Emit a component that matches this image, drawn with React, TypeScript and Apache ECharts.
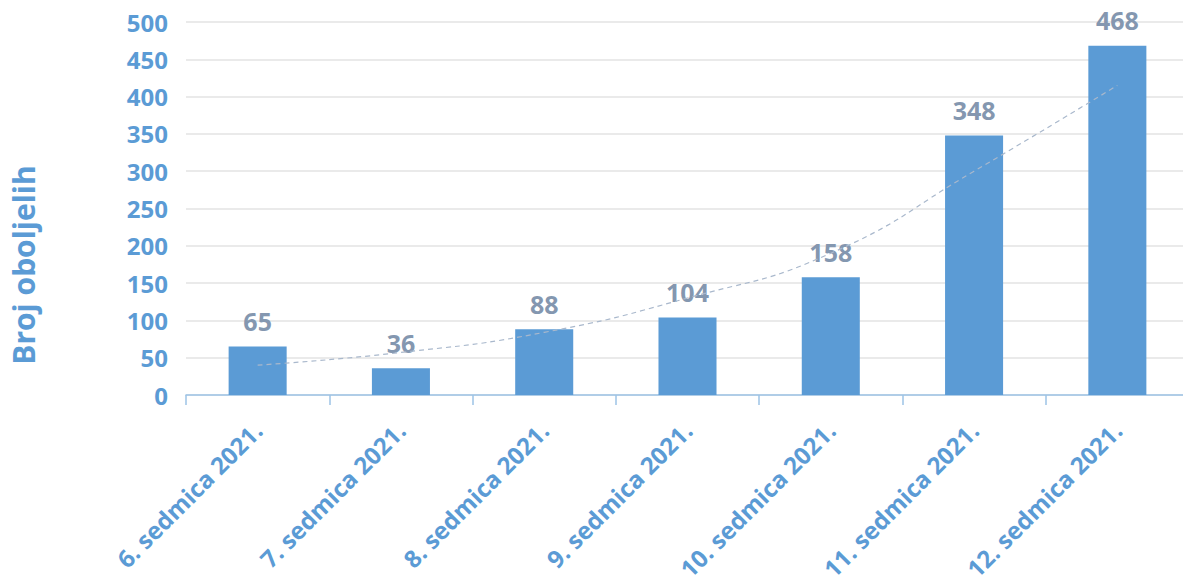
import React, { useEffect, useRef } from "react";
import * as echarts from "echarts";

const categories = [
  "6. sedmica 2021.",
  "7. sedmica 2021.",
  "8. sedmica 2021.",
  "9. sedmica 2021.",
  "10. sedmica 2021.",
  "11. sedmica 2021.",
  "12. sedmica 2021.",
];
const cases = [65, 36, 88, 104, 158, 348, 468];
const trend = [40, 57, 84, 130, 190, 300, 415];
const yAxisTitle = "Broj oboljelih";

const FONT = "'Open Sans', 'Noto Sans', sans-serif";
const BLUE = "#5B9BD5";

export default function App() {
  const ref = useRef<HTMLDivElement>(null);
  useEffect(() => {
    if (!ref.current) return;
    const chart = echarts.init(ref.current, undefined, { renderer: "svg" });
    chart.setOption({
      animation: false,
      grid: { left: 186, right: 1, top: 22, bottom: 189, containLabel: false, outerBoundsMode: "none" },
      graphic: [
        {
          type: "text",
          x: 23,
          y: 265,
          rotation: Math.PI / 2,
          style: {
            text: yAxisTitle,
            fill: BLUE,
            font: `bold 30px ${FONT}`,
            align: "center",
            verticalAlign: "middle",
          },
        },
      ],
      xAxis: {
        type: "category",
        data: categories,
        boundaryGap: true,
        axisLine: { show: true, lineStyle: { color: "#9DC3E6", width: 1.5 } },
        axisTick: { show: true, length: 10, alignWithLabel: false, lineStyle: { color: "#9DC3E6", width: 1.5 } },
        axisLabel: {
          rotate: 45,
          interval: 0,
          margin: 31,
          color: BLUE,
          fontFamily: FONT,
          fontWeight: "bold",
          fontSize: 24,
        },
      },
      yAxis: {
        type: "value",
        min: 0,
        max: 500,
        interval: 50,
        axisLine: { show: false },
        axisTick: { show: false },
        axisLabel: { color: BLUE, fontFamily: FONT, fontWeight: "bold", fontSize: 24, margin: 18 },
        splitLine: { lineStyle: { color: "#E3E3E3", width: 1.5 } },
      },
      series: [
        {
          type: "bar",
          data: cases,
          barWidth: "40.5%",
          itemStyle: { color: BLUE },
          label: {
            show: true,
            position: "top",
            distance: 13,
            color: "#8497B0",
            fontFamily: FONT,
            fontWeight: "bold",
            fontSize: 25,
          },
          z: 2,
        },
        {
          type: "line",
          data: trend,
          smooth: true,
          symbol: "none",
          lineStyle: { color: "#A9B8CC", width: 1.2, type: [5, 4] },
          z: 3,
        },
      ],
    });
    return () => chart.dispose();
  }, []);
  return (
    <div
      ref={ref}
      style={{ position: "fixed", left: 0, top: 0, width: 1190, height: 584, background: "#fff" }}
    />
  );
}
